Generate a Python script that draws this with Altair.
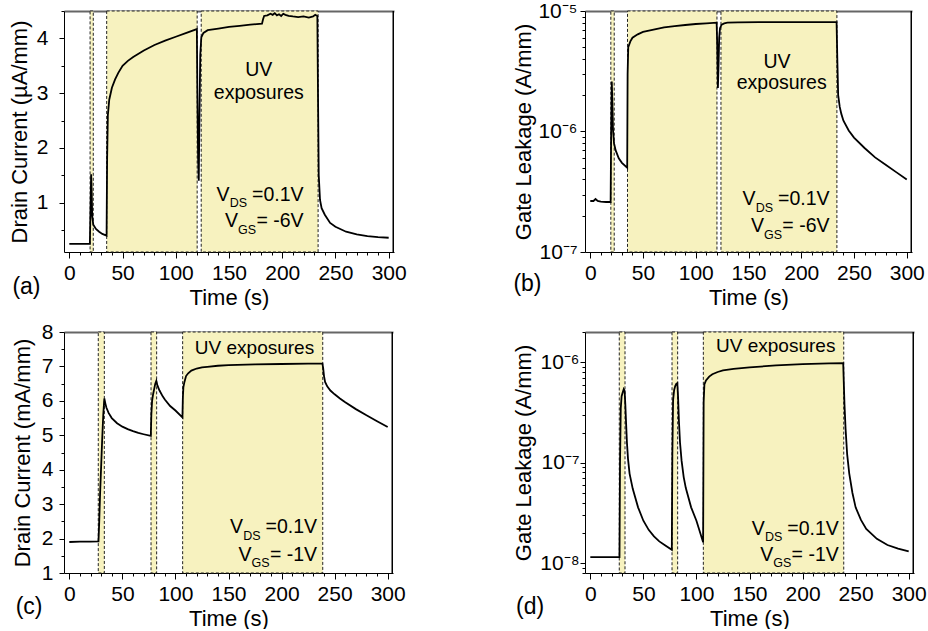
import altair as alt
import pandas as pd

FONT = "Liberation Sans"
SHADE = "#F7F2BF"
X_DOMAIN = [-5, 305]
X_MAJOR = [0, 50, 100, 150, 200, 250, 300]
X_MINOR = [v for v in range(0, 301, 10) if v % 50 != 0]

# ---------------- Panel (a): drain current, VGS = -6 V ----------------
a_time = [0, 5, 10, 15, 19.3, 19.8, 20.5, 21.0, 21.5, 22.5, 25, 28, 31, 35.0, 35.5, 36.2,
          37.5, 40, 43, 46, 50, 55, 60, 65, 70, 80, 90, 100, 110, 119.8, 120.3, 121.0,
          121.6, 122.2, 123, 124, 126, 130, 140, 150, 160, 170, 181, 182, 183, 186, 189,
          191, 193, 195, 197, 199, 201, 203, 206, 210, 215, 220, 225, 229, 231, 233,
          233.6, 234.3, 235.5, 237, 240, 245, 250, 260, 270, 280, 290, 300]
a_current = [0.25, 0.25, 0.25, 0.25, 0.25, 0.8, 1.52, 1.2, 0.75, 0.60, 0.52, 0.47, 0.43,
             0.40, 1.8, 2.6, 2.88, 3.10, 3.25, 3.37, 3.50, 3.59, 3.66, 3.72, 3.78, 3.88,
             3.96, 4.03, 4.10, 4.17, 3.0, 1.8, 1.40, 2.5, 3.7, 4.02, 4.10, 4.15, 4.18,
             4.21, 4.23, 4.25, 4.27, 4.35, 4.41, 4.42, 4.45, 4.43, 4.46, 4.42, 4.44, 4.41,
             4.45, 4.43, 4.41, 4.40, 4.39, 4.40, 4.38, 4.40, 4.43, 4.41, 3.0, 1.5, 1.05,
             0.90, 0.78, 0.63, 0.56, 0.47, 0.42, 0.39, 0.37, 0.36]
a_uv_start = [19.5, 35.1, 123.9]
a_uv_end = [22.5, 120.1, 233.7]
a_ymajor = [1, 2, 3, 4]
a_ymajor_labels = ["1", "2", "3", "4"]
a_yminor = [0.5, 1.5, 2.5, 3.5, 4.5]
a_note = {"uv_x": 178, "uv_y": 3.31, "exp_x": 178, "exp_y": 2.887,
          "cond_x": 220.1, "cond_y1": 1.04, "cond_y2": 0.55, "vgs": "= -6V"}

# ---------------- Panel (b): gate leakage, VGS = -6 V ----------------
b_time = [0, 3, 5, 7, 10, 15, 19.3, 19.8, 20.4, 20.9, 21.5, 22.5, 24, 27, 30, 35.0, 35.4,
          36, 38, 40, 45, 50, 60, 70, 80, 90, 100, 110, 119.8, 120.4, 121.0, 121.6, 122.2,
          123, 124.5, 127, 130, 140, 160, 180, 200, 220, 233.5, 234.2, 235, 236.5, 238,
          240, 245, 250, 260, 270, 280, 290, 300]
b_leak = [2.65e-7, 2.65e-7, 2.75e-7, 2.65e-7, 2.62e-7, 2.6e-7, 2.6e-7, 1.0e-6, 2.6e-6,
          1.8e-6, 1.05e-6, 8.0e-7, 7.0e-7, 6.0e-7, 5.5e-7, 5.0e-7, 3.0e-6, 5.0e-6, 5.6e-6,
          6.0e-6, 6.4e-6, 6.7e-6, 7.0e-6, 7.3e-6, 7.5e-6, 7.65e-6, 7.8e-6, 7.9e-6, 8.0e-6,
          5.0e-6, 2.3e-6, 3.5e-6, 6.0e-6, 7.2e-6, 7.7e-6, 7.9e-6, 8.0e-6, 8.05e-6, 8.1e-6,
          8.1e-6, 8.1e-6, 8.1e-6, 8.1e-6, 4.0e-6, 2.0e-6, 1.6e-6, 1.4e-6, 1.23e-6, 1.02e-6,
          8.9e-7, 7.3e-7, 6.1e-7, 5.3e-7, 4.6e-7, 4.0e-7]
b_uv_start = [19.5, 35.3, 123.9]
b_uv_end = [22.7, 120.1, 233.8]
b_ymajor = [1e-7, 1e-6, 1e-5]
b_ymajor_labels = ["10⁻⁷", "10⁻⁶", "10⁻⁵"]
b_yminor = [k * d for d in [1e-7, 1e-6] for k in range(2, 10)]
b_note = {"uv_x": 177, "uv_y": 3.39e-6, "exp_x": 181.5, "exp_y": 2.24e-6,
          "cond_x": 226.8, "cond_y1": 2.45e-7, "cond_y2": 1.46e-7, "vgs": "= -6V"}

# ---------------- Panel (c): drain current, VGS = -1 V ----------------
c_time = [0, 10, 20, 27.5, 28.2, 29, 30, 31, 32, 33, 34, 35, 37, 40, 45, 50, 55, 60, 65,
          70, 76.8, 77.3, 78, 79, 80, 81, 82, 83, 85, 88, 90, 95, 100, 106.6, 107, 107.5,
          108.5, 110, 112, 115, 120, 125, 130, 140, 150, 175, 200, 225, 238.5, 239.2, 240,
          241, 243, 246, 250, 255, 260, 270, 280, 290, 300]
c_current = [1.90, 1.91, 1.91, 1.92, 2.5, 3.3, 4.1, 4.9, 5.6, 6.07, 5.92, 5.80, 5.65, 5.50,
             5.35, 5.25, 5.18, 5.12, 5.07, 5.03, 4.98, 5.6, 6.0, 6.2, 6.35, 6.5, 6.58, 6.45,
             6.30, 6.13, 6.04, 5.85, 5.72, 5.52, 6.1, 6.4, 6.55, 6.72, 6.80, 6.88, 6.94,
             6.97, 6.99, 7.02, 7.04, 7.06, 7.07, 7.08, 7.08, 6.95, 6.72, 6.55, 6.42, 6.3,
             6.19, 6.07, 5.96, 5.76, 5.58, 5.41, 5.24]
c_uv_start = [27.3, 77.0, 106.8]
c_uv_end = [33.0, 82.3, 238.8]
c_ymajor = [1, 2, 3, 4, 5, 6, 7, 8]
c_ymajor_labels = ["1", "2", "3", "4", "5", "6", "7", "8"]
c_yminor = [1.5, 2.5, 3.5, 4.5, 5.5, 6.5, 7.5]
c_note = {"uv_x": 174.5, "uv_y": 7.35, "cond_x": 233.5, "cond_y1": 2.16, "cond_y2": 1.36,
          "vgs": "= -1V"}

# ---------------- Panel (d): gate leakage, VGS = -1 V ----------------
d_time = [0, 10, 20, 27.5, 28.0, 28.7, 29.5, 30.5, 31.5, 32.3, 33.0, 33.7, 34.5, 35.5, 37,
          40, 45, 50, 55, 60, 65, 70, 76.8, 77.3, 78, 79, 80, 81, 82, 82.7, 83.5, 84.5, 86,
          88, 90, 95, 100, 106.3, 106.8, 107.5, 109, 112, 115, 120, 125, 135, 150, 175,
          200, 225, 238.3, 238.8, 239.5, 240.5, 242, 244, 247, 250, 255, 260, 270, 280,
          290, 300]
d_leak = [1.15e-8, 1.15e-8, 1.15e-8, 1.15e-8, 1.0e-7, 3.5e-7, 4.6e-7, 5.0e-7, 5.4e-7,
          5.2e-7, 3.8e-7, 2.5e-7, 1.6e-7, 1.1e-7, 7.8e-8, 5.5e-8, 3.6e-8, 2.65e-8, 2.15e-8,
          1.85e-8, 1.65e-8, 1.52e-8, 1.36e-8, 1.2e-7, 4.2e-7, 5.3e-7, 5.8e-7, 6.1e-7,
          6.2e-7, 4.5e-7, 2.6e-7, 1.6e-7, 1.05e-7, 7.2e-8, 5.6e-8, 3.6e-8, 2.65e-8,
          1.62e-8, 4.0e-7, 6.0e-7, 6.6e-7, 7.2e-7, 7.6e-7, 8.0e-7, 8.3e-7, 8.6e-7, 8.9e-7,
          9.3e-7, 9.6e-7, 9.75e-7, 9.8e-7, 6.5e-7, 3.8e-7, 2.2e-7, 1.22e-7, 7.8e-8, 5.0e-8,
          3.6e-8, 2.7e-8, 2.2e-8, 1.75e-8, 1.52e-8, 1.40e-8, 1.31e-8]
d_uv_start = [27.3, 77.0, 106.5]
d_uv_end = [32.7, 82.3, 238.8]
d_ymajor = [1e-8, 1e-7, 1e-6]
d_ymajor_labels = ["10⁻⁸", "10⁻⁷", "10⁻⁶"]
d_yminor = [8e-9, 9e-9] + [k * d for d in [1e-8, 1e-7] for k in range(2, 10)] + [2e-6]
d_note = {"uv_x": 174.7, "uv_y": 1.26e-6, "cond_x": 234.1, "cond_y1": 1.93e-8,
          "cond_y2": 1.06e-8, "vgs": "= -1V"}


def label_expr(values, labels):
    expr = "''"
    for v, lab in zip(values, labels):
        expr = f"abs(datum.value/{v!r} - 1) < 1e-6 ? '{lab}' : ({expr})"
    return expr


def panel(time, values, starts, ends, ydomain, ylog, ymajor, ymajor_labels, yminor,
          ytitle, ytitle_x, ylab_pad, w, h, note, two_line_uv, letter, letter_x, letter_y):
    xscale = alt.Scale(domain=X_DOMAIN, nice=False, zero=False)
    yscale = alt.Scale(domain=ydomain, nice=False, zero=False,
                       type="log" if ylog else "linear")
    x_major = alt.Axis(orient="bottom", values=X_MAJOR, tickSize=6, labelPadding=4,
                       labelOverlap=False, labelFlush=False, title="Time (s)", titleY=52,
                       titleBaseline="alphabetic")
    x_minor = alt.Axis(orient="bottom", values=X_MINOR, tickSize=3, labels=False,
                       domain=False, title=None)
    x_top = alt.Axis(orient="top", labels=False, ticks=False, title=None,
                     domainColor="#666666", domainWidth=2)
    y_major = alt.Axis(orient="left", values=ymajor,
                       labelExpr=label_expr(ymajor, ymajor_labels), tickSize=5,
                       labelPadding=ylab_pad, labelOverlap=False, labelFlush=False,
                       title=ytitle, titleX=ytitle_x, titleY=h / 2, titleAngle=270,
                       titleAlign="center", titleBaseline="alphabetic")
    y_minor = alt.Axis(orient="left", values=yminor, tickSize=3, labels=False,
                       domain=False, title=None)

    line_df = pd.DataFrame({"t": time, "v": values})
    shade_df = pd.DataFrame({"start": starts, "end": ends})
    edge_df = pd.DataFrame({"t": [X_DOMAIN[1]]})

    shade = alt.Chart(shade_df).mark_rect(
        fill=SHADE, stroke="#222222", strokeWidth=1, strokeDash=[3, 2]
    ).encode(
        x=alt.X("start:Q", scale=xscale, axis=x_minor), x2="end:Q",
        y=alt.value(0), y2=alt.value("height"),
    )
    curve = alt.Chart(line_df).mark_line(color="black", strokeWidth=1.8).encode(
        x=alt.X("t:Q", scale=xscale, axis=x_major),
        y=alt.Y("v:Q", scale=yscale, axis=y_major),
    )
    # right-hand frame line at the end of the time axis
    right_edge = alt.Chart(edge_df).mark_rule(
        color="black", strokeWidth=1.5, xOffset=-0.75
    ).encode(x=alt.X("t:Q", scale=xscale, axis=None))

    def txt(label, x, y, size, align, dx=0, dy=0, xa=None, ya=None):
        df = pd.DataFrame({"t": [x], "v": [y], "label": [label]})
        return alt.Chart(df).mark_text(
            font=FONT, fontSize=size, align=align, baseline="alphabetic",
            dx=dx, dy=dy, color="black"
        ).encode(
            x=alt.X("t:Q", scale=xscale, axis=xa),
            y=alt.Y("v:Q", scale=yscale, axis=ya),
            text="label:N",
        )

    layers = [shade, curve, right_edge]
    if two_line_uv:
        layers.append(txt("UV", note["uv_x"], note["uv_y"], 19.5, "center",
                          xa=x_top, ya=y_minor))
        layers.append(txt("exposures", note["exp_x"], note["exp_y"], 19.5, "center"))
    else:
        layers.append(txt("UV exposures", note["uv_x"], note["uv_y"], 19, "center",
                          xa=x_top, ya=y_minor))
    cx, y1, y2 = note["cond_x"], note["cond_y1"], note["cond_y2"]
    layers += [
        txt("=0.1V", cx, y1, 19.5, "right"),
        txt("DS", cx, y1, 12.5, "right", dx=-56.5, dy=6.5),
        txt("V", cx, y1, 19.5, "right", dx=-74),
        txt(note["vgs"], cx, y2, 19.5, "right"),
        txt("GS", cx, y2, 12.5, "right", dx=-47.5, dy=6.5),
        txt("V", cx, y2, 19.5, "right", dx=-65.5),
    ]
    letter_layer = alt.Chart(pd.DataFrame({"label": [letter]})).mark_text(
        font=FONT, fontSize=23, align="left", baseline="alphabetic", color="black"
    ).encode(x=alt.value(letter_x), y=alt.value(letter_y), text="label:N")
    layers.append(letter_layer)
    return alt.layer(*layers).resolve_axis(x="independent", y="independent").properties(
        width=w, height=h)


pa = panel(a_time, a_current, a_uv_start, a_uv_end, [0.1, 4.5], False, a_ymajor,
           a_ymajor_labels, a_yminor, "Drain Current (µA/mm)", -37.6, 11,
           330, 241, a_note, True, "(a)", -51.6, 283)
pb = panel(b_time, b_leak, b_uv_start, b_uv_end, [1e-7, 1e-5], True, b_ymajor,
           b_ymajor_labels, b_yminor, "Gate Leakage (A/mm)", -54.6, 3,
           327, 241, b_note, True, "(b)", -71.6, 280)
pc = panel(c_time, c_current, c_uv_start, c_uv_end, [1, 8], False, c_ymajor,
           c_ymajor_labels, c_yminor, "Drain Current (mA/mm)", -34.9, 6,
           329, 241, c_note, False, "(c)", -48.3, 282)
pd_ = panel(d_time, d_leak, d_uv_start, d_uv_end, [8e-9, 2e-6], True, d_ymajor,
            d_ymajor_labels, d_yminor, "Gate Leakage (A/mm)", -54.3, 1,
            329, 241, d_note, False, "(d)", -69, 282)

chart = alt.concat(pa, pb, pc, pd_, columns=2, spacing={"row": 80, "column": 191},
                   bounds="flush").properties(
    padding={"left": 8, "top": 0, "right": 0, "bottom": 0}
).configure_view(
    stroke=None
).configure_axis(
    grid=False, domainColor="black", tickColor="black", labelColor="black",
    titleColor="black", labelFont=FONT, titleFont=FONT, labelFontSize=21,
    titleFontSize=22, titleFontWeight="normal", domainWidth=1, tickWidth=1
)

chart.save("out.html", embed_options={"renderer": "svg", "actions": False})
